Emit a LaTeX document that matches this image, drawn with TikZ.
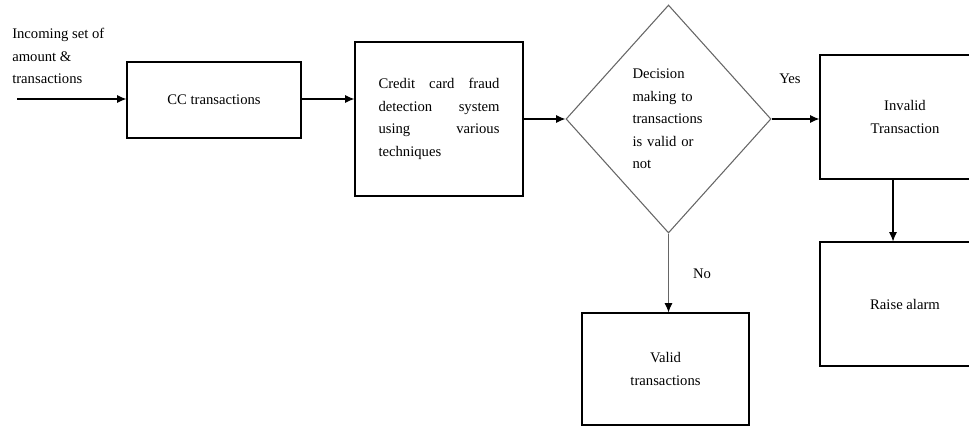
\documentclass[tikz,border=0pt]{standalone}
\usepackage{fontspec}
\setmainfont{Liberation Serif}
\usetikzlibrary{arrows}
\usetikzlibrary{arrows.meta}
\usetikzlibrary{shapes.geometric}

\begin{document}
\begin{tikzpicture}[x=0.75pt,y=-0.75pt,font=\fontsize{11}{16.9}\selectfont]
\tikzstyle{box}=[draw,line width=0.8pt,inner sep=0pt]
\tikzstyle{flow}=[-{Latex[length=7pt,width=6pt]},line width=0.8pt]
\clip (0,0) rectangle (969,427);
\node[anchor=west,align=left,inner sep=0pt] (inlabel) at (12,56) {Incoming set of\\amount \&\\transactions};
\coordinate (in) at (17,99);
\node[box,minimum width=130.5pt,minimum height=57pt] (cc) at (214,100) {CC transactions};
\node[box,minimum width=126pt,minimum height=115.5pt,text width=90.75pt,align=justify] (fds) at (439,119)
{Credit card fraud\linebreak detection system\linebreak using various\linebreak techniques};
\node[diamond,draw=black!60,line width=0.8pt,inner sep=0pt,minimum width=153.75pt,minimum height=171pt,text width=54pt,align=left] (dec) at (668.5,119)
{Decision\\making to\\transactions\\is valid or\\not};
\node[box,minimum width=127.5pt,minimum height=93pt,align=center] (inv) at (905,117) {Invalid\\Transaction};
\node[box,minimum width=127.5pt,minimum height=93pt] (alarm) at (905,304) {Raise alarm};
\node[box,minimum width=125.25pt,minimum height=84pt,align=center] (valid) at (665.5,369) {Valid\\transactions};
\node (yes) at (790,79) {Yes};
\node (no) at (702,274) {No};
% connectors
\draw[flow] (in) -- (in -| cc.west);
\draw[flow] (in -| cc.east) -- (in -| fds.west);
\draw[flow] (fds.east |- dec.west) -- (dec.west);
\draw[flow] (dec.east) -- (dec.east -| inv.west);
\draw[flow] ([xshift=-9pt]inv.south) -- ([xshift=-9pt]alarm.north);
\draw[-{Latex[length=7pt,width=6pt,color=black]},line width=0.8pt,draw=black!60] (dec.south) -- (dec.south |- valid.north);
\end{tikzpicture}
\end{document}
